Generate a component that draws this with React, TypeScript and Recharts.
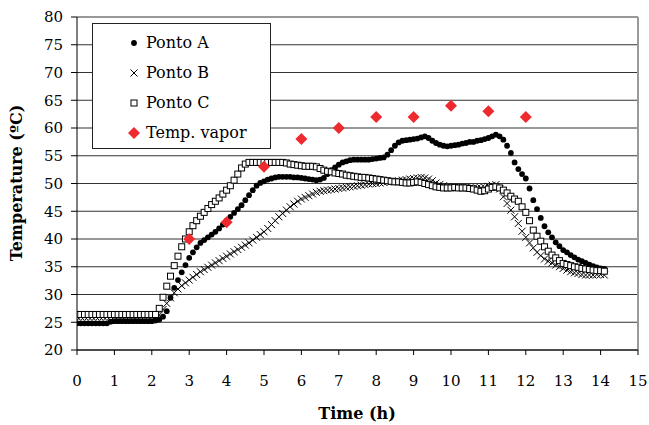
import React from 'react';
import { ScatterChart, Scatter, XAxis, YAxis, CartesianGrid, Legend, ReferenceLine } from 'recharts';

const TIMES = [
  0, 0.1, 0.2, 0.3, 0.4, 0.5, 0.6, 0.7, 0.8, 0.9,
  1, 1.1, 1.2, 1.3, 1.4, 1.5, 1.6, 1.7, 1.8, 1.9,
  2, 2.1, 2.2, 2.3, 2.4, 2.5, 2.6, 2.7, 2.8, 2.9,
  3, 3.1, 3.2, 3.3, 3.4, 3.5, 3.6, 3.7, 3.8, 3.9,
  4, 4.1, 4.2, 4.3, 4.4, 4.5, 4.6, 4.7, 4.8, 4.9,
  5, 5.1, 5.2, 5.3, 5.4, 5.5, 5.6, 5.7, 5.8, 5.9,
  6, 6.1, 6.2, 6.3, 6.4, 6.5, 6.6, 6.7, 6.8, 6.9,
  7, 7.1, 7.2, 7.3, 7.4, 7.5, 7.6, 7.7, 7.8, 7.9,
  8, 8.1, 8.2, 8.3, 8.4, 8.5, 8.6, 8.7, 8.8, 8.9,
  9, 9.1, 9.2, 9.3, 9.4, 9.5, 9.6, 9.7, 9.8, 9.9,
  10, 10.1, 10.2, 10.3, 10.4, 10.5, 10.6, 10.7, 10.8, 10.9,
  11, 11.1, 11.2, 11.3, 11.4, 11.5, 11.6, 11.7, 11.8, 11.9,
  12, 12.1, 12.2, 12.3, 12.4, 12.5, 12.6, 12.7, 12.8, 12.9,
  13, 13.1, 13.2, 13.3, 13.4, 13.5, 13.6, 13.7, 13.8, 13.9,
  14, 14.1,
];

const PONTO_A = [
  24.8, 24.8, 24.8, 24.8, 24.8, 24.8, 24.8, 24.8, 24.8, 25.1,
  25.2, 25.2, 25.2, 25.2, 25.2, 25.2, 25.2, 25.2, 25.2, 25.2,
  25.2, 25.3, 25.5, 26.0, 27.0, 29.4, 31.2, 32.6, 34.0, 35.3,
  36.6, 37.6, 38.5, 39.3, 39.8, 40.3, 40.8, 41.3, 41.9, 42.6,
  43.3, 44.0, 44.7, 45.4, 46.1, 47.0, 47.9, 48.8, 49.6, 50.1,
  50.4, 50.7, 50.9, 51.1, 51.2, 51.2, 51.2, 51.2, 51.1, 51.1,
  51.0, 50.9, 50.8, 50.7, 50.6, 50.7, 51.0, 51.7, 52.4, 52.9,
  53.4, 53.8, 54.0, 54.2, 54.3, 54.3, 54.3, 54.3, 54.3, 54.4,
  54.5, 54.6, 54.7, 55.2, 56.0, 56.8, 57.4, 57.7, 57.8, 57.9,
  58.0, 58.1, 58.3, 58.5, 58.2, 57.7, 57.3, 57.0, 56.8, 56.7,
  56.8, 56.9, 57.0, 57.2, 57.3, 57.5, 57.5, 57.7, 57.8, 58.0,
  58.2, 58.5, 58.8, 58.5, 57.9, 56.8, 55.5, 53.8, 52.6, 51.7,
  50.9, 49.1, 47.0, 45.4, 43.8, 42.3, 41.2, 40.3, 39.4, 38.7,
  38.0, 37.6, 37.1, 36.7, 36.3, 36.0, 35.7, 35.4, 35.1, 34.9,
  34.7, 34.6,
];

const PONTO_B = [
  26.0, 26.0, 26.0, 26.0, 26.0, 26.0, 26.0, 26.0, 26.0, 26.0,
  26.0, 26.0, 26.0, 26.0, 26.0, 26.0, 26.0, 26.0, 26.0, 26.0,
  26.0, 26.0, 26.3, 27.3, 28.4, 29.4, 30.3, 31.0, 31.6, 32.1,
  32.6, 33.1, 33.6, 34.1, 34.5, 34.9, 35.3, 35.7, 36.1, 36.5,
  36.9, 37.3, 37.7, 38.1, 38.5, 38.9, 39.3, 39.8, 40.3, 40.8,
  41.3, 41.9, 42.6, 43.3, 44.0, 44.6, 45.2, 45.8, 46.3, 46.8,
  47.2, 47.5, 47.8, 48.1, 48.4, 48.6, 48.7, 48.8, 48.9, 49.0,
  49.1, 49.2, 49.3, 49.4, 49.5, 49.6, 49.7, 49.8, 49.9, 50.0,
  50.0, 50.1, 50.2, 50.3, 50.3, 50.4, 50.5, 50.6, 50.7, 50.8,
  50.9, 51.0, 51.1, 51.0, 50.8, 50.5, 50.1, 49.8, 49.6, 49.4,
  49.3, 49.3, 49.3, 49.3, 49.3, 49.2, 49.2, 49.2, 49.2, 49.3,
  49.5, 49.7, 49.8, 49.0, 47.6, 46.4, 45.2, 44.0, 42.8, 41.4,
  40.3, 39.3, 38.4, 37.6, 37.0, 36.4, 36.0, 35.7, 35.3, 35.0,
  34.7, 34.4, 34.1, 33.9, 33.8, 33.6, 33.5, 33.5, 33.5, 33.6,
  33.6, 33.5,
];

const PONTO_C = [
  26.4, 26.4, 26.4, 26.4, 26.4, 26.4, 26.4, 26.4, 26.4, 26.4,
  26.4, 26.4, 26.4, 26.4, 26.4, 26.4, 26.4, 26.4, 26.4, 26.4,
  26.4, 26.4, 27.5, 29.5, 31.5, 33.3, 35.2, 36.9, 38.6, 40.0,
  41.3, 42.4, 43.3, 44.1, 44.8, 45.5, 46.2, 46.8, 47.4, 48.1,
  48.8, 49.6, 50.6, 51.7, 52.8, 53.5, 53.8, 53.8, 53.8, 53.8,
  53.8, 53.8, 53.8, 53.8, 53.8, 53.8, 53.7, 53.5, 53.4, 53.3,
  53.2, 53.1, 53.1, 53.1, 53.0, 52.7, 52.4, 52.2, 52.1, 51.9,
  51.8, 51.7, 51.5, 51.4, 51.3, 51.2, 51.1, 51.1, 51.0, 50.9,
  50.8, 50.7, 50.6, 50.5, 50.4, 50.3, 50.3, 50.2, 50.1, 50.1,
  50.2, 50.3, 50.2, 50.0, 49.8, 49.6, 49.4, 49.3, 49.2, 49.2,
  49.2, 49.3, 49.2, 49.2, 49.2, 49.1, 49.0, 48.8, 48.6, 48.7,
  49.0, 49.3, 49.4, 49.2, 48.8, 48.3, 47.7, 47.2, 46.8, 45.8,
  44.8, 43.3, 41.6, 40.5, 39.6, 38.6, 37.8, 37.1, 36.6, 36.1,
  35.6, 35.4, 35.2, 35.0, 34.9, 34.7, 34.6, 34.5, 34.4, 34.3,
  34.3, 34.2,
];

const VAPOR_TIMES = [3, 4, 5, 6, 7, 8, 9, 10, 11, 12];
const VAPOR_TEMPS = [40, 43, 53, 58, 60, 62, 62, 64, 63, 62];

const X_TICKS = [0, 1, 2, 3, 4, 5, 6, 7, 8, 9, 10, 11, 12, 13, 14, 15];
const Y_TICKS = [20, 25, 30, 35, 40, 45, 50, 55, 60, 65, 70, 75, 80];

const LEGEND_LABELS = ['Ponto A', 'Ponto B', 'Ponto C', 'Temp. vapor'];

const RED = '#EE2A2E';
const FONT = "'DejaVu Serif', 'Liberation Serif', serif";

const dataA = TIMES.map((t, i) => ({ t, v: PONTO_A[i] }));
const dataB = TIMES.map((t, i) => ({ t, v: PONTO_B[i] }));
const dataC = TIMES.map((t, i) => ({ t, v: PONTO_C[i] }));
const dataV = VAPOR_TIMES.map((t, i) => ({ t, v: VAPOR_TEMPS[i] }));

const Dot = (p: any) => <circle cx={p.cx} cy={p.cy} r={2.9} fill="#000" />;
const Cross = (p: any) => (
  <path
    d={`M${p.cx - 3.5},${p.cy - 3.5}L${p.cx + 3.5},${p.cy + 3.5}M${p.cx - 3.5},${p.cy + 3.5}L${p.cx + 3.5},${p.cy - 3.5}`}
    stroke="#000"
    strokeWidth={1}
    fill="none"
  />
);
const Square = (p: any) => (
  <rect x={p.cx - 3} y={p.cy - 3} width={6} height={6} fill="#fff" stroke="#000" strokeWidth={1} />
);
const Diamond = (p: any) => (
  <path
    d={`M${p.cx},${p.cy - 6}L${p.cx + 6},${p.cy}L${p.cx},${p.cy + 6}L${p.cx - 6},${p.cy}Z`}
    fill={RED}
  />
);

const LegendBox = () => {
  const rows = [24, 54, 84, 114];
  const sx = 41;
  return (
    <svg width={177} height={124} style={{ display: 'block' }}>
      {LEGEND_LABELS.map((label, i) => {
        const cy = rows[i] - 5;
        let sym;
        if (i === 0) sym = <Dot cx={sx} cy={cy} />;
        else if (i === 1) sym = <Cross cx={sx} cy={cy} />;
        else if (i === 2) sym = <Square cx={sx} cy={cy} />;
        else sym = <Diamond cx={sx} cy={cy} />;
        return (
          <g key={label}>
            {sym}
            <text x={53} y={rows[i]} fontFamily={FONT} fontSize={16} fill="#000">
              {label}
            </text>
          </g>
        );
      })}
    </svg>
  );
};

const YTitle = () => (
  <text
    x={16}
    y={183}
    transform="rotate(-90 16 183)"
    textAnchor="middle"
    dominantBaseline="central"
    fontFamily={FONT}
    fontWeight="bold"
    fontSize={16}
    fill="#000"
  >
    Temperature (ºC)
  </text>
);

const XTitle = () => (
  <text x={357} y={419} textAnchor="middle" fontFamily={FONT} fontWeight="bold" fontSize={16} fill="#000">
    Time (h)
  </text>
);

export default function App() {
  return (
    <div style={{ position: 'absolute', left: 0, top: 0, background: '#fff' }}>
      <ScatterChart width={649} height={425} margin={{ top: 17, right: 11, bottom: 0, left: 0 }}>
        <CartesianGrid horizontal vertical={false} stroke="#333" strokeWidth={1} />
        <XAxis
          type="number"
          dataKey="t"
          domain={[0, 15]}
          ticks={X_TICKS}
          interval={0}
          height={75}
          tickSize={5}
          tickMargin={20}
          axisLine={{ stroke: '#000' }}
          tickLine={{ stroke: '#000' }}
          tick={{ fontFamily: FONT, fontSize: 15, fill: '#000' }}
          label={<XTitle />}
          allowDataOverflow
        />
        <YAxis
          type="number"
          dataKey="v"
          domain={[20, 80]}
          ticks={Y_TICKS}
          interval={0}
          width={77}
          tickSize={6}
          tickMargin={8}
          axisLine={{ stroke: '#000' }}
          tickLine={{ stroke: '#000' }}
          tick={{ fontFamily: FONT, fontSize: 15, fill: '#000' }}
          label={<YTitle />}
          allowDataOverflow
        />
        <ReferenceLine x={15} stroke="#999" strokeWidth={2} />
        <Scatter name="Ponto A" data={dataA} shape={Dot} isAnimationActive={false} />
        <Scatter name="Ponto B" data={dataB} shape={Cross} isAnimationActive={false} />
        <Scatter name="Ponto C" data={dataC} shape={Square} isAnimationActive={false} />
        <Scatter name="Temp. vapor" data={dataV} shape={Diamond} isAnimationActive={false} />
        <Legend
          layout="vertical"
          align="center"
          verticalAlign="middle"
          content={<LegendBox />}
          wrapperStyle={{
            left: 92,
            top: 23,
            width: 177,
            height: 124,
            border: '1px solid #222',
            background: '#fff',
          }}
        />
      </ScatterChart>
    </div>
  );
}
